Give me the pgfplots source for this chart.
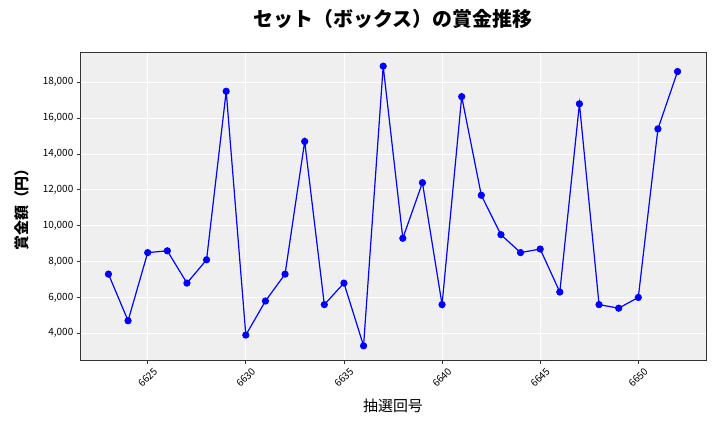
\documentclass[border=0pt]{standalone}
\usepackage{fontspec}
\setmainfont{Noto Sans CJK JP}
\usepackage{pgfplots}
\pgfplotsset{compat=1.18}

\definecolor{panelbg}{HTML}{EFEFEF}
\definecolor{framec}{HTML}{333333}

\pgfplotstableread{
round prize
6623 7300
6624 4700
6625 8500
6626 8600
6627 6800
6628 8100
6629 17500
6630 3900
6631 5800
6632 7300
6633 14700
6634 5600
6635 6800
6636 3300
6637 18900
6638 9300
6639 12400
6640 5600
6641 17200
6642 11700
6643 9500
6644 8500
6645 8700
6646 6300
6647 16800
6648 5600
6649 5400
6650 6000
6651 15400
6652 18600
}\prizes

\begin{document}
\begin{tikzpicture}
\useasboundingbox (0,0) rectangle (720bp,432bp);
\begin{axis}[
    at={(80bp,72bp)}, anchor=south west,
    scale only axis,
    width=626bp, height=308bp,
    xmin=6621.55, xmax=6653.45,
    ymin=2510, ymax=19690,
    xtick={6625,6630,...,6650},
    ytick={4000,6000,...,18000},
    axis background/.style={fill=panelbg},
    axis line style={framec, line width=0.8pt},
    grid=major,
    major grid style={white, line width=0.8pt},
    tick align=outside,
    major tick length=3.5bp,
    tick style={framec, line width=0.8pt},
    xtick pos=lower, ytick pos=left,
    /pgf/number format/assume math mode=true,
    /pgf/number format/1000 sep={,},
    scaled y ticks=false,
    ticklabel style={font=\fontsize{10}{12}\selectfont},
    xticklabel style={/pgf/number format/1000 sep={}, inner sep=0pt, yshift=-14bp, rotate=45, anchor=center},
    yticklabel style={inner sep=0pt, xshift=-3bp},
    title={セット（ボックス）の賞金推移},
    title style={font=\fontsize{20}{24}\selectfont\bfseries, at={(axis description cs:0.5,1.0877)}, anchor=center},
    xlabel={抽選回号},
    xlabel style={font=\fontsize{15}{18}\selectfont, at={(axis description cs:0.5,-0.149)}, anchor=center},
    ylabel={賞金額（円）},
    ylabel style={font=\fontsize{15}{18}\selectfont\bfseries, at={(axis description cs:-0.0927,0.5)}, anchor=center},
]
\addplot[blue, line width=1.2pt, mark=*, mark size=3bp, mark options={fill=blue, draw=blue}] table[x=round, y=prize] {\prizes};
\end{axis}
\end{tikzpicture}
\end{document}
